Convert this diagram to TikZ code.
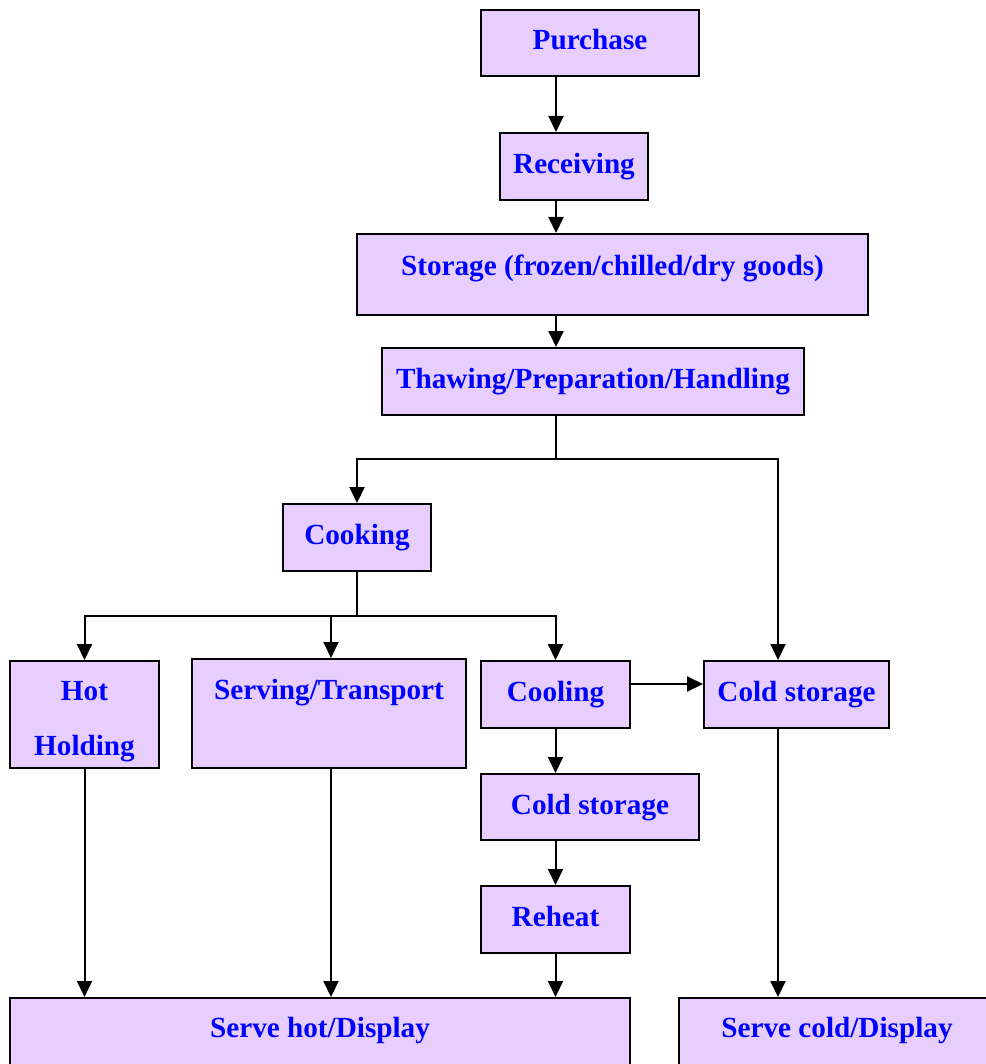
\documentclass[tikz,border=0pt]{standalone}
\usepackage{fontspec}
\setmainfont{Liberation Serif}
\usepackage{tikz}
\usetikzlibrary{arrows.meta,positioning}
\definecolor{boxfill}{RGB}{231,206,255}
\definecolor{boxtext}{RGB}{0,0,255}

\begin{document}
\begin{tikzpicture}[x=0.5pt, y=-0.5pt,
                   box/.style={draw=black, line width=1pt, fill=boxfill, text=boxtext,
                               inner sep=0pt, align=center, text height=11pt, text depth=4pt,
                               font=\bfseries\fontsize{14.6pt}{27.5pt}\selectfont},
                   arr/.style={line width=1pt, -{Triangle[width=7.5pt,length=8pt]}},
                   line/.style={line width=1pt}]
          \useasboundingbox (0,0) rectangle (985,1064);
          % boxes
          \node[box, minimum width=109pt, minimum height=33pt] (purchase) at (590,43) {Purchase};
          \node[box, minimum width=74pt, minimum height=33.5pt] (receiving) at (574,166.5) {Receiving};
          \node[box, minimum width=255.5pt, minimum height=40.5pt, text depth=10pt] (storage) at (612.5,274.5) {Storage (frozen/chilled/dry goods)};
          \node[box, minimum width=211pt, minimum height=33.5pt] (thawing) at (593,381.5) {Thawing/Preparation/Handling};
          \node[box, minimum width=74pt, minimum height=33.5pt] (cooking) at (357,537.5) {Cooking};
          \node[box, minimum width=74.5pt, minimum height=53.5pt, text height=43pt, text depth=2.5pt] (hotholding) at (84.5,714.5) {Hot\\Holding};
          \node[box, minimum width=137pt, minimum height=54.5pt, text depth=25pt] (serving) at (329,713.5) {Serving/Transport};
          \node[box, minimum width=74.5pt, minimum height=33.5pt] (cooling) at (555.5,694.5) {Cooling};
          \node[box, minimum width=92.5pt, minimum height=33.5pt] (coldright) at (796.5,694.5) {Cold storage};
          \node[box, minimum width=109pt, minimum height=33pt] (coldmid) at (590,807) {Cold storage};
          \node[box, minimum width=74.5pt, minimum height=33.5pt] (reheat) at (555.5,919.5) {Reheat};
          \node[box, minimum width=310pt, minimum height=36pt, text depth=8pt] (servehot) at (320,1034) {Serve hot/Display};
          \node[box, minimum width=158pt, minimum height=36pt, text depth=8pt] (servecold) at (837,1034) {Serve cold/Display};

          % columns and split points
          \coordinate (spine) at (556,0);
          \coordinate (coldcol) at (778,0);
          \coordinate (split1) at (556,459);
          \coordinate (split2) at (357,616);

          % main line
          \draw[arr] (purchase.south -| spine) -- (receiving.north -| spine);
          \draw[arr] (receiving.south -| spine) -- (storage.north -| spine);
          \draw[arr] (storage.south -| spine) -- (thawing.north -| spine);
          \draw[line] (thawing.south -| spine) -- (split1);
          \draw[arr] (split1) -| (cooking.north);
          \draw[arr] (split1) -| (coldright.north -| coldcol);

          % after cooking
          \draw[line] (cooking.south) -- (split2);
          \draw[arr] (split2) -| (hotholding.north);
          \draw[arr] (split2) -| ([xshift=1pt]serving.north);
          \draw[arr] (split2) -| (cooling.north);
          \draw[arr] ([yshift=5.25pt]cooling.east) -- ([yshift=5.25pt]coldright.west);
          \draw[arr] (cooling.south) -- (cooling.south |- coldmid.north);
          \draw[arr] (reheat.north |- coldmid.south) -- (reheat.north);
          \draw[arr] (reheat.south) -- (reheat.south |- servehot.north);

          % to serving
          \draw[arr] (hotholding.south) -- (hotholding.south |- servehot.north);
          \draw[arr] ([xshift=1pt]serving.south) -- ([xshift=1pt]serving.south |- servehot.north);
          \draw[arr] (coldright.south -| coldcol) -- (servecold.north -| coldcol);
        \end{tikzpicture}
\end{document}
